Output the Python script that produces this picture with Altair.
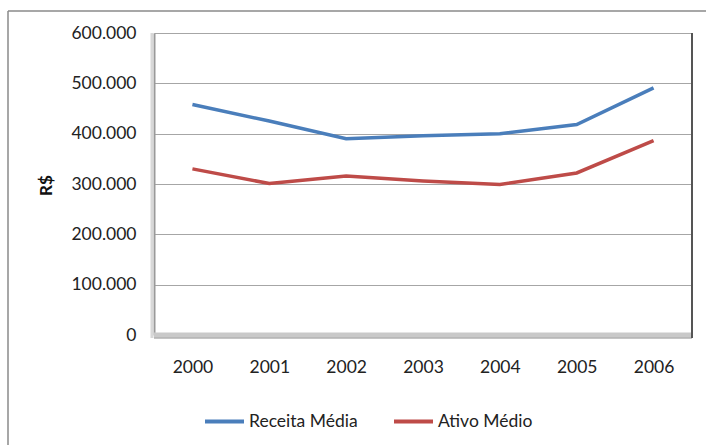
import altair as alt
import pandas as pd

years = ["2000", "2001", "2002", "2003", "2004", "2005", "2006"]
receita = [458000, 425000, 390000, 396000, 400000, 418000, 491000]
ativo = [330000, 301000, 316000, 306000, 299000, 322000, 386000]
series_names = ["Receita Média", "Ativo Médio"]
colors = ["#4A7EBB", "#BE4B48"]

rows = []
for i, y in enumerate(years):
    rows.append({"ano": y, "serie": series_names[0], "valor": receita[i]})
    rows.append({"ano": y, "serie": series_names[1], "valor": ativo[i]})
df = pd.DataFrame(rows)

FONT = "Lato"
W, H = 538, 302

x_enc = alt.X("ano:N", sort=years, title=None,
              scale=alt.Scale(paddingInner=1, paddingOuter=0.5),
              axis=alt.Axis(labelAngle=0, labelFontSize=17.5, labelFont=FONT,
                            labelColor="#222222", ticks=False, domain=False,
                            labelPadding=23, grid=False))
y_enc = alt.Y("valor:Q", title="R$",
              scale=alt.Scale(domain=[0, 600000], nice=False),
              axis=alt.Axis(values=[0, 100000, 200000, 300000, 400000, 500000, 600000],
                            labelExpr="replace(format(datum.value, ',d'), ',', '.')",
                            labelFontSize=17.5, labelFont=FONT, labelColor="#222222",
                            labelPadding=18, ticks=False, domain=True,
                            domainColor="#9a9a9a", domainWidth=2,
                            grid=True, gridColor="#a6a6a6", gridWidth=1,
                            titleFont=FONT, titleFontSize=17, titleFontWeight="bold",
                            titleColor="#111111", titleX=-108, titleY=152,
                            titleAngle=-90, titleAlign="center", titleBaseline="middle"))

lines = alt.Chart(df).mark_line(strokeWidth=3.5).encode(
    x=x_enc, y=y_enc,
    color=alt.Color("serie:N", sort=series_names,
                    scale=alt.Scale(domain=series_names, range=colors),
                    legend=alt.Legend(title=None, orient="none", direction="horizontal",
                                      legendX=49, legendY=367,
                                      symbolType="stroke", symbolSize=1521,
                                      symbolStrokeWidth=4, labelFontSize=17.5,
                                      labelFont=FONT, labelColor="#222222",
                                      labelOffset=3, columnPadding=28)),
)

floor = alt.Chart(pd.DataFrame({"v": [0]})).mark_rule(color="#c9c9c9", strokeWidth=5).encode(
    y=alt.Y("v:Q", scale=alt.Scale(domain=[0, 600000])),
)
floor_edge = alt.Chart(pd.DataFrame({"v": [0]})).mark_rule(color="#8c8c8c", strokeWidth=1).encode(
    x=alt.value(0), x2=alt.value(W), y=alt.value(H + 3),
)
right_edge = alt.Chart(pd.DataFrame({"v": [0]})).mark_rule(color="#555555", strokeWidth=2).encode(
    x=alt.value(W), y=alt.value(0), y2=alt.value(H + 3),
)
left_wall = alt.Chart(pd.DataFrame({"v": [0]})).mark_rule(color="#d8d8d8", strokeWidth=3).encode(
    x=alt.value(-2), y=alt.value(0), y2=alt.value(H + 3),
)
border_top = alt.Chart(pd.DataFrame({"v": [0]})).mark_rule(color="#8a8a8a", strokeWidth=1.5).encode(
    x=alt.value(-146), x2=alt.value(W + 14), y=alt.value(-22),
)
border_left = alt.Chart(pd.DataFrame({"v": [0]})).mark_rule(color="#8a8a8a", strokeWidth=1.5).encode(
    x=alt.value(-146), y=alt.value(-22), y2=alt.value(H + 110),
)

chart = alt.layer(left_wall, floor, floor_edge, right_edge, lines, border_top, border_left).properties(
    width=W, height=H,
    padding={"left": 154, "top": 33, "right": 14, "bottom": 110},
    autosize=alt.AutoSizeParams(type="none"),
    background="white",
).configure_view(stroke="#cfcfcf", strokeWidth=1)

chart.save("out.html", embed_options={"renderer": "svg", "actions": False})
